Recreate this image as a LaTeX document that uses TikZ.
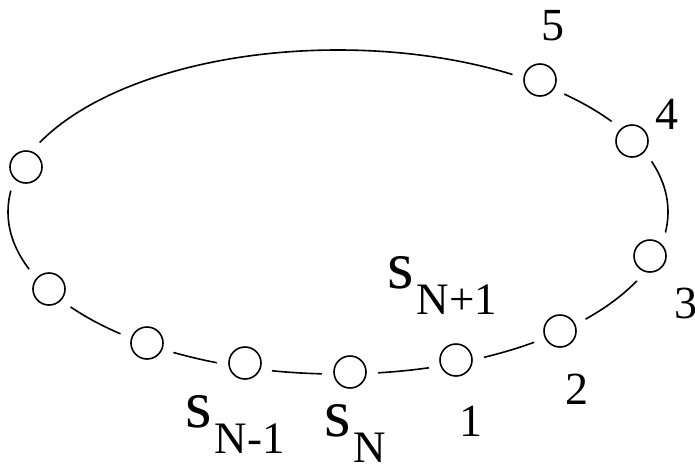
\documentclass[tikz,border=0pt]{standalone}
\usepackage{fontspec}
\setmainfont{Liberation Serif}
\newcommand{\slab}[1]{{\fontsize{68}{68}\selectfont s}\kern3pt\raisebox{-26pt}{\fontsize{45}{45}\selectfont #1}}
\begin{document}
\begin{tikzpicture}[x=1pt,y=-1pt,
  ring/.style={line width=1.6pt, black},
  site/.style={circle, draw=black, line width=1.6pt, fill=white, minimum size=32pt, inner sep=0pt,
    preaction={draw=white, line width=24pt}},
  num/.style={font=\fontsize{46}{46}\selectfont, inner sep=0pt, anchor=base},
  slbl/.style={inner sep=0pt, anchor=base west}]
\useasboundingbox (0,0) rectangle (695,464);
\draw[ring] (338,212) ellipse [x radius=330pt, y radius=162pt];
\node[site] (c5) at (540,80) {};
\node[site] (c4) at (632,141) {};
\node[site] (c3) at (650,256) {};
\node[site] (c2) at (560,331) {};
\node[site] (c1) at (456,360) {};
\node[site] (cN) at (350,372) {};
\node[site] (cNm) at (245,363) {};
\node[site] (cA) at (147,343) {};
\node[site] (cB) at (49,289) {};
\node[site] (cC) at (26,167) {};
\node[num] (l5) at (553,40) {5};
\node[num] (l4) at (667,129) {4};
\node[num] (l3) at (686,318) {3};
\node[num] (l2) at (577,404) {2};
\node[num] (l1) at (471,436) {1};
\node[slbl] (sNp) at (387,288) {\slab{N+1}};
\node[slbl] (sN) at (324,436) {\slab{N}};
\node[slbl] (sNm) at (185,427) {\slab{N-1}};
\end{tikzpicture}
\end{document}
